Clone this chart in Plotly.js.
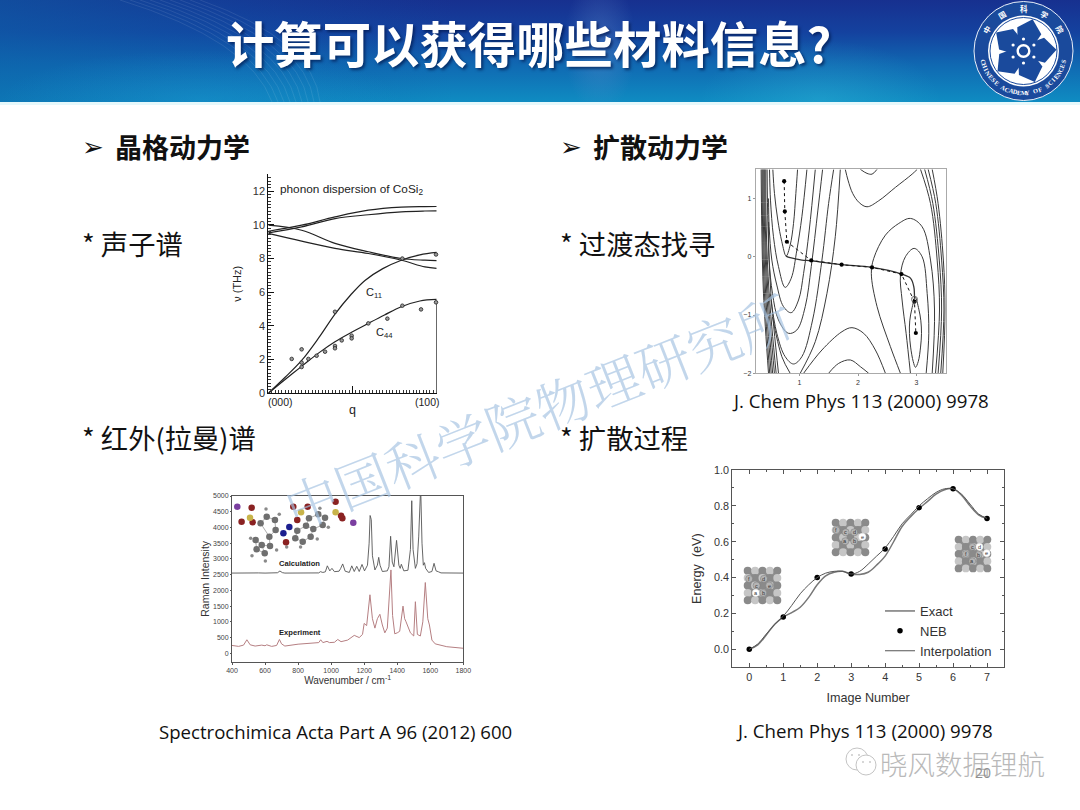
<!DOCTYPE html>
<html><head><meta charset="utf-8">
<script src="https://cdn.plot.ly/plotly-3.0.1.min.js"></script>
<style>
html,body{margin:0;padding:0;background:#fff;width:1080px;height:810px;overflow:hidden}
#banner{position:absolute;left:0;top:0;width:1080px;height:102px;
background:
 radial-gradient(ellipse 36px 70px at 600px 45px,rgba(110,150,210,.35),rgba(110,150,210,0) 100%),
 radial-gradient(ellipse 120px 60px at 820px 100px,rgba(60,200,225,.28),rgba(60,200,225,0) 100%),
 radial-gradient(ellipse 200px 50px at 200px 100px,rgba(30,170,220,.30),rgba(30,170,220,0) 100%),
 linear-gradient(90deg,rgba(12,100,170,.55) 0%,rgba(12,90,170,.28) 22%,rgba(10,60,160,0) 42%,rgba(10,60,160,0) 100%),
 linear-gradient(180deg,#17308f 0%,#14429f 32%,#1069b2 64%,#0f8cc2 100%);}
#bline{position:absolute;left:0;top:102px;width:1080px;height:3px;background:#e6f8fb}
#chart{position:absolute;left:0;top:0;width:1080px;height:810px}
</style></head><body>
<div id="banner"></div><div id="bline"></div><div id="chart"></div>
<script>
// ---------- Phonon dispersion of CoSi2 ----------
const phononQ   = [0,0.198,0.396,0.594,0.79,0.93,1];
const branchA   = [9.62,9.98,10.47,10.87,11.05,11.08,11.09];
const branchB   = [9.52,9.88,10.37,10.6,10.77,10.82,10.83];
const branchC   = [9.98,9.68,8.9,8.4,8.0,7.9,7.87];
const branchD   = [9.49,9.03,8.6,8.3,7.9,7.5,7.41];
const c11Q      = [0,0.1,0.198,0.3,0.396,0.49,0.574,0.68,0.79,0.9,1];
const c11Nu     = [0,0.95,1.95,3.3,4.7,5.85,6.7,7.4,7.9,8.22,8.36];
const c44Q      = [0,0.1,0.198,0.3,0.396,0.5,0.594,0.69,0.79,0.9,1];
const c44Nu     = [0,0.82,1.6,2.4,3.06,3.65,4.15,4.65,5.14,5.48,5.57];
const expQ      = [.139,.198,.198,.198,.238,.287,.337,.396,.396,.396,.436,.495,.495,.594,.707,.796,.796,.907,.996,.996];
const expNu     = [2.04,2.61,1.82,1.56,2.04,2.23,2.47,4.84,2.81,2.67,3.14,3.42,3.26,4.15,4.43,5.2,8.0,4.98,5.4,8.24];
// ---------- Raman spectra ----------
const calcWn = [400,520,532,545,560,600,675,690,705,720,925,935,950,965,977,992,1005,1020,1048,1057,1070,1085,1110,1125,1140,1155,1170,1187,1202,1220,1230,1236,1243,1250,1265,1280,1288,1296,1310,1340,1350,1360,1370,1380,1396,1410,1418,1425,1440,1465,1480,1488,1496,1510,1520,1530,1535,1542,1550,1558,1565,1572,1590,1610,1623,1635,1650,1665,1800];
const calcI  = [2550,2555,2575,2565,2555,2550,2560,2615,2565,2550,2555,2595,2570,2590,2780,2620,2700,2595,2610,2690,2840,2610,2570,2780,2600,2765,2600,2825,2620,2800,3500,4380,4250,3100,2650,2800,3050,2800,2600,2620,2750,3720,2900,2750,3590,2800,2700,2830,2620,2640,3300,4850,3300,2700,2850,3700,5300,5300,3500,2800,2880,2700,2570,2600,2860,2620,2590,2555,2550];
const expWn  = [400,440,470,490,510,540,580,600,610,640,670,687,700,720,800,900,925,937,950,975,990,1020,1040,1060,1100,1140,1170,1190,1200,1215,1235,1250,1265,1280,1295,1310,1325,1340,1350,1362,1372,1385,1400,1415,1435,1445,1452,1460,1480,1500,1510,1522,1540,1555,1570,1585,1595,1610,1630,1700,1800];
const expI   = [250,220,260,430,270,230,260,240,270,220,250,440,300,230,290,320,340,430,340,380,340,350,440,370,420,570,500,600,950,880,1860,1100,800,1100,1240,900,650,800,1500,2650,1200,620,650,700,1500,1100,1020,900,650,550,1640,600,550,1000,2250,1100,900,420,300,210,160];
const atomPurpleX=[432,1134], atomPurpleY=[4661,4153];
const atomRedX=[519,458,525,771,858,795,1027,1060,1068,727], atomRedY=[4629,4185,4163,4661,4661,4238,4820,4375,4290,3528];
const atomYellowX=[509,818,1027], atomYellowY=[4312,4481,4481];
const atomBlueX=[747,711], atomBlueY=[4015,3814];
const atomGrayX=[573,610,660,664,626,543,580,630,549,598,795,848,866,922,963,949,892,876,828,783];
const atomGrayY=[4132,4343,4238,3920,3708,3602,3443,3411,3306,3178,3899,4057,4290,4418,4312,4079,3952,3708,3549,3655];
const atomSmallX=[606,686,513,521,602,670,932,983,916,815,731];
const atomSmallY=[4587,4418,3655,3104,2935,3284,4608,4005,3634,3380,3380];
const bondPairs=[[0,1],[1,2],[2,3],[3,4],[4,0],[4,7],[7,6],[6,5],[5,8],[8,9],[9,6],[10,11],[11,12],[12,13],[13,14],[14,15],[15,16],[16,11],[16,17],[17,18],[18,19],[19,10]];
// ---------- NEB potential contours ----------
const contourLines = [
 {x:[.343,.354,.383,.469],y:[1.5,.514,-.63,-2]},
 {x:[.36,.368,.40,.49],y:[1.5,.514,-.63,-2]},
 {x:[.375,.383,.42,.515],y:[1.5,.514,-.63,-2]},
 {x:[.39,.40,.44,.54],y:[1.5,.514,-.63,-2]},
 {x:[.405,.415,.46,.57],y:[1.5,.514,-.63,-2]},
 {x:[.423,.43,.48,.60],y:[1.5,.514,-.63,-2]},
 {x:[.445,.46,.51,.64],y:[1.5,.514,-.63,-2]},
 {x:[.543,.571,.628,.697,.771,.84,.897,.937,.966],y:[1.497,1.086,.629,.257,.011,.2,.571,1.086,1.497]},
 {x:[.486,.503,.554,.64,.754,.857,.954,1.04,1.126],y:[1.497,.971,.343,-.171,-.526,-.371,.114,.686,1.497]},
 {x:[.47,.48,.526,.611,.726,.857,.983,1.069,1.166,1.269],y:[1.0,.514,-.057,-.486,-.857,-.96,-.743,-.286,.457,1.497]},
 {x:[.47,.48,.537,.64,.811,.954,1.097,1.2,1.314,1.394],y:[.6,-.057,-.629,-1.086,-1.314,-1.257,-.857,-.171,.8,1.497]},
 {x:[.497,.611,.754,.897,1.04,1.223,1.383,1.497,1.583],y:[-.629,-1.314,-1.714,-1.84,-1.714,-1.086,-.057,.914,1.497]},
 {x:[.537,.697,.84],y:[-1.029,-1.714,-2]},
 {x:[1.011,1.269,1.469,1.611,1.697],y:[-2,-1.457,-.629,.343,1.497]},
 {x:[1.783,1.829,1.909,2.023,2.154,2.354,2.64,2.926,3.011],y:[1.497,1.314,1.086,.926,.857,.96,1.19,1.417,1.497]},
 {x:[2.04,2.154,2.24,2.326],y:[1.5,1.43,1.417,1.5]},
 {x:[1.497,1.669,1.868,2.04,2.183],y:[-2,-1.83,-1.771,-1.886,-2]},
 {x:[1.069,1.383,1.726,1.897,2.097,2.297,2.469],y:[-2,-1.6,-1.286,-1.217,-1.314,-1.6,-2]},
 {x:[2.98,2.92,2.885,2.88,2.90,2.945,2.983,3.03,3.07,3.086,3.075,3.04,2.98],y:[-.70,-.9,-1.1,-1.314,-1.55,-1.8,-1.897,-1.8,-1.55,-1.314,-1.1,-.9,-.70]},
 {x:[2.897,2.823,2.754,2.726,2.811,2.96,3.097,3.183,3.211,3.166],y:[-2,-1.314,-.743,-.314,0,.143,0,-.629,-1.314,-2]},
 {x:[2.726,2.554,2.326,2.228,2.269,2.469,2.697,2.897,3.097,3.24,3.309,3.269],y:[-2,-1.543,-.857,-.286,-.029,.371,.571,.657,.514,-.057,-.914,-2]},
 {x:[3.069,3.24,3.354,3.394,3.326],y:[1.5,.914,-.057,-.914,-2]},
 {x:[3.14,3.28,3.39,3.43,3.37],y:[1.5,.914,-.057,-.914,-2]},
 {x:[3.2,3.33,3.43,3.47,3.415],y:[1.5,.914,-.057,-.914,-2]},
 {x:[3.269,3.37,3.46,3.49,3.45],y:[1.5,.914,-.057,-.914,-2]}
];
const mepX=[.766,.84,1.04,1.2,1.726,2.24,2.743,2.9,2.954,2.966];
const mepY=[0.011,-.017,-.057,-.069,-.137,-.183,-.297,-.371,-.514,-.714];
const nebPathX=[.737,.748,.783,1.2,1.72,2.24,2.743,2.966,2.989];
const nebPathY=[1.297,.777,.257,-.063,-.137,-.183,-.297,-.771,-1.309];
// ---------- NEB energies ----------
const imageNo     = [0,1,2,3,4,5,6,7];
const nebEnergy   = [0,.18,.40,.42,.56,.79,.895,.73];
const curveX      = [0,.25,.5,.75,1,1.25,1.5,1.75,2,2.25,2.5,2.75,3,3.25,3.5,3.75,4,4.25,4.5,4.75,5,5.25,5.5,5.75,6,6.25,6.5,6.75,7];
const exactEnergy = [0,.025,.08,.14,.18,.205,.235,.29,.36,.41,.43,.435,.42,.418,.43,.47,.52,.60,.685,.74,.785,.825,.865,.89,.895,.86,.80,.75,.73];
const interpEnergy= [0,.03,.085,.14,.185,.245,.31,.36,.40,.425,.435,.435,.42,.435,.475,.52,.565,.63,.70,.75,.80,.84,.875,.895,.895,.865,.81,.755,.73];
// ---------- Slide text ----------
const slideTitle="计算可以获得哪些材料信息?";
const watermark="中国科学院物理研究所";
const footer="晓风数据锂航";

const W=1080,H=810, px=x=>x/W, py=y=>1-y/H;
const SANS='"Liberation Sans",Arial,sans-serif', CJK='"Noto Sans CJK SC","Open Sans",sans-serif', OS='"Open Sans","Noto Sans",sans-serif';
const anns=[], shapes=[];
function T(x,y,text,size,o={}){anns.push({xref:'paper',yref:'paper',x:px(x),y:py(y),text,showarrow:false,xanchor:o.xa||'left',yanchor:'middle',textangle:o.angle||0,
  font:{family:o.family||CJK,size,color:o.color||'#111',weight:o.weight||400}});}
function circ(cx,cy,r,fill,line,lw){shapes.push({type:'circle',xref:'paper',yref:'paper',x0:px(cx-r),x1:px(cx+r),y0:py(cy+r),y1:py(cy-r),fillcolor:fill,line:{color:line||fill,width:lw===undefined?0:lw}});}

// banner fan of light lines
for(let i=0;i<9;i++){
  shapes.push({type:'path',xref:'paper',yref:'paper',line:{color:'rgba(255,255,255,.13)',width:.7},
    path:`M${px(120+i*10)},${py(0)} Q${px(250+i*8)},${py(40)} ${px(272+i*6)},${py(102)}`});
}

// slide headings and bullets
T(80,147,'➢',26,{family:'"DejaVu Sans"'}); T(112.5,146,'晶格动力学',27,{weight:700});
T(558,147,'➢',26,{family:'"DejaVu Sans"'}); T(590.5,146,'扩散动力学',27,{weight:700});
T(79.5,243,'* 声子谱',27.3); T(79.5,437,'* 红外(拉曼)谱',27.3);
T(557.5,243,'* 过渡态找寻',27.3); T(557.5,437,'* 扩散过程',27.3);
T(335,731,'Spectrochimica Acta Part A 96 (2012) 600',18.6,{family:OS,xa:'center'});
T(860,400,'J. Chem Phys 113 (2000) 9978',18.7,{family:OS,xa:'center'});
T(864.5,730,'J. Chem Phys 113 (2000) 9978',18.7,{family:OS,xa:'center'});

// phonon labels
T(278,189,'phonon dispersion of CoSi<sub>2</sub>',11.8,{family:SANS,color:'#222'});
T(364,293,'C<sub>11</sub>',11,{family:SANS,color:'#222'});
T(374,333,'C<sub>44</sub>',11,{family:SANS,color:'#222'});
T(280,402,'(000)',10.5,{family:SANS,color:'#222',xa:'center'});
T(427,402,'(100)',10.5,{family:SANS,color:'#222',xa:'center'});
// raman labels
T(277,563,'Calculation',7.6,{family:SANS,weight:700,color:'#222'});
T(277,632,'Experiment',7.6,{family:SANS,weight:700,color:'#222'});

// lattice insets of the NEB panel
function inset(l,t,size,marks){
  const c=size/5;
  shapes.push({type:'rect',xref:'paper',yref:'paper',x0:px(l+2),x1:px(l+size-2),y0:py(t+size-2),y1:py(t+2),fillcolor:'#8e8e8e',line:{width:0}});
  for(let i=0;i<5;i++)for(let j=0;j<5;j++){
    const light=(i+j)%2===1;
    circ(l+(i+.5)*c,t+(j+.5)*c,c*.54,light?'#c6c6c6':'#8a8a8a');
  }
  marks.forEach(m=>{circ(l+m[0]*c,t+m[1]*c,c*.48,m[3]?'#fff':'#b4b4b4',m[3]?'#eee':'#777',.5);
    T(l+m[0]*c,t+m[1]*c,m[2],5.5,{family:SANS,xa:'center',color:'#333'});});
}
inset(744,567,37,[[.7,1.6,'f'],[2.7,1.6,'d'],[1.7,2.5,'c'],[3.4,2.5,'e'],[1.6,3.5,'a',1],[2.6,3.5,'b']]);
inset(832,519,37,[[.6,1.5,'f'],[1.85,1.8,'c',0],[3,1.8,'d'],[4.1,2.4,'e',1],[1.8,3,'a'],[3,3,'b']]);
inset(955,536,36,[[1.5,2.5,'f'],[2.4,1.5,'c'],[3.4,1.5,'d',1],[4.4,2.4,'e',1],[3.3,2.6,'b'],[2.4,3.5,'a']]);

// logo
const LX=1023.5,LY=51,LOGO='#1a4a9c';
circ(LX,LY,49.5,LOGO,'#e8eef8',1);
circ(LX,LY,35.5,'#ffffff','#ffffff',0);
circ(LX,LY,33.5,'#ffffff',LOGO,1);
circ(LX,LY,17,LOGO);
for(let k=0;k<5;k++){
  const a=(-74+72*k)*Math.PI/180, u=[Math.cos(a),Math.sin(a)], v=[-u[1],u[0]];
  const P=(r,s)=>`${px(LX+u[0]*r+v[0]*s)},${py(LY+u[1]*r+v[1]*s)}`;
  shapes.push({type:'path',xref:'paper',yref:'paper',fillcolor:LOGO,line:{width:0},
    path:`M${P(10,-9)} L${P(21,-12.5)} L${P(33,0)} L${P(21,12.5)} L${P(10,9)} Z`});
}
for(let k=0;k<6;k++){const a=(-90+60*k)*Math.PI/180;circ(LX+Math.cos(a)*12,LY+Math.sin(a)*12,1.6,'#ffffff');}
circ(LX,LY,7,'#ffffff');circ(LX,LY,4.6,LOGO);
[...'中国科学院'].forEach((c,i)=>{const deg=-150+30*i, r=42.5, a=deg*Math.PI/180;
  T(LX+r*Math.cos(a),LY+r*Math.sin(a),c,7.5,{xa:'center',color:'#fff',angle:deg+90,weight:700});});
[...'CHINESE ACADEMY OF SCIENCES'].forEach((c,i,arr)=>{const deg=165-(150*i/(arr.length-1)), r=41.5, a=deg*Math.PI/180;
  if(c!==' ')T(LX+r*Math.cos(a),LY+r*Math.sin(a),c,6.3,{family:'"Liberation Serif",serif',xa:'center',color:'#fff',angle:deg-90,weight:700});});

// footer and watermark
circ(857,759,11,'rgba(0,0,0,0)','#c4c4c4',1); circ(866,765,10,'#ffffff','#c4c4c4',1);
circ(852,755,.9,'#c4c4c4');circ(859,755,.9,'#c4c4c4');circ(863,762,.9,'#c4c4c4');circ(870,762,.9,'#c4c4c4');
T(962,763,footer,27.5,{xa:'center',color:'#b9b9b9',weight:300});
T(983,772,'20',14,{family:OS,xa:'center',color:'#8f8f8f'});
T(537,409,watermark,54,{xa:'center',angle:-21.5,color:'rgba(165,195,225,.68)',family:'"Noto Serif CJK SC","Noto Sans CJK SC",sans-serif',weight:300});

const dx=(l,r)=>[px(l),px(r)], dy=(t,b)=>[py(b),py(t)];
const tf=(s,c)=>({family:SANS,size:s,color:c||'#333'});
const base={showgrid:false,zeroline:false};
const layout={width:W,height:H,margin:{l:0,r:0,t:0,b:0},paper_bgcolor:'rgba(0,0,0,0)',plot_bgcolor:'rgba(0,0,0,0)',
 title:{text:slideTitle,x:.4895,xanchor:'center',y:.943,yanchor:'middle',
   font:{family:CJK,size:48.4,color:'#fff',weight:700,shadow:'2px 2px 3px rgba(0,20,70,.65)'}},
 showlegend:true,
 legend:{x:px(880),y:py(596),xanchor:'left',yanchor:'top',bgcolor:'rgba(0,0,0,0)',font:{family:SANS,size:13,color:'#333'},tracegroupgap:0,itemwidth:30},
 xaxis:{...base,domain:dx(268.3,436.7),anchor:'y',range:[0,1],tickvals:[0,.5,1],showticklabels:false,ticks:'inside',ticklen:7,tickcolor:'#111',showline:true,linecolor:'#111',linewidth:1,
   minor:{dtick:.02,ticks:'inside',ticklen:3,tickcolor:'#333',showgrid:false},title:{text:'q',font:tf(12.5,'#222'),standoff:11}},
 yaxis:{...base,domain:dy(174.3,393.3),anchor:'x',range:[0,13],dtick:2,ticks:'inside',ticklen:6,tickcolor:'#111',showline:true,linecolor:'#111',linewidth:1,tickfont:tf(11),
   minor:{dtick:.2,ticks:'inside',ticklen:3,tickcolor:'#333',showgrid:false},title:{text:'ν (THz)',font:tf(11,'#222'),standoff:8}},
 xaxis2:{...base,domain:dx(232,463.3),anchor:'y2',range:[400,1800],dtick:200,ticks:'outside',ticklen:2,tickcolor:'#555',mirror:true,showline:true,linecolor:'#555',linewidth:1,tickfont:tf(7,'#444'),
   title:{text:'Wavenumber / cm<sup>-1</sup>',font:tf(10),standoff:3}},
 yaxis2:{...base,domain:dy(496,661.7),anchor:'x2',range:[-267,5000],dtick:500,ticks:'outside',ticklen:1,tickcolor:'#555',mirror:true,showline:true,linecolor:'#555',linewidth:1,tickfont:tf(7,'#444'),
   title:{text:'Raman Intensity',font:tf(10.5),standoff:1}},
 xaxis3:{...base,domain:dx(755.7,945.7),anchor:'y3',range:[.25,3.5],tickvals:[1,2,3],ticks:'outside',ticklen:2,tickcolor:'#999',mirror:true,showline:true,linecolor:'#aaa',linewidth:1,tickfont:tf(7)},
 yaxis3:{...base,domain:dy(169.3,373.3),anchor:'x3',range:[-2,1.5],tickvals:[-2,-1,0,1],ticks:'outside',ticklen:2,tickcolor:'#999',mirror:true,showline:true,linecolor:'#aaa',linewidth:1,tickfont:tf(7)},
 xaxis4:{...base,domain:dx(732.3,1004),anchor:'y4',range:[-.5,7.5],dtick:1,ticks:'inside',ticklen:4,tickcolor:'#555',mirror:'ticks',showline:true,linecolor:'#555',linewidth:1,tickfont:tf(10.8),
   minor:{dtick:.5,ticks:'inside',ticklen:2,tickcolor:'#555',showgrid:false},title:{text:'Image Number',font:tf(12.6),standoff:10}},
 yaxis4:{...base,domain:dy(470,667.3),anchor:'x4',range:[-.1,1],dtick:.2,tickformat:'.1f',ticks:'inside',ticklen:4,tickcolor:'#555',mirror:'ticks',showline:true,linecolor:'#555',linewidth:1,tickfont:tf(10.8),
   minor:{dtick:.1,ticks:'inside',ticklen:2,tickcolor:'#555',showgrid:false},title:{text:'Energy  (eV)',font:tf(12.6),standoff:9}},
 annotations:anns,shapes
};
const off={showlegend:false,hoverinfo:'skip'};
const L=(x,y,ax,o={})=>({...off,type:'scatter',mode:'lines',x,y,xaxis:'x'+ax,yaxis:'y'+ax,line:{color:o.c||'#222',width:o.w||1.2,shape:o.s||'spline',dash:o.d},...(o.extra||{})});
const bondX=[],bondY=[];
bondPairs.forEach(p=>{bondX.push(atomGrayX[p[0]],atomGrayX[p[1]],null);bondY.push(atomGrayY[p[0]],atomGrayY[p[1]],null);});
const atoms=(x,y,c,s)=>({...off,type:'scatter',mode:'markers',x,y,xaxis:'x2',yaxis:'y2',marker:{color:c,size:s,line:{width:0}}});
const traces=[
 L(phononQ,branchA,''),L(phononQ,branchB,''),L(phononQ,branchC,''),L(phononQ,branchD,''),
 L(c11Q,c11Nu,''),L(c44Q,c44Nu,''),
 L([1,1],[0,5.5],'',{s:'linear',w:1.2,c:'#111'}),
 {...off,type:'scatter',mode:'markers',x:expQ,y:expNu,marker:{size:3.6,color:'#9a9a9a',line:{color:'#222',width:.8}},cliponaxis:false},
 L(calcWn,calcI,2,{s:'linear',c:'#555',w:.9}),
 L(expWn,expI,2,{s:'linear',c:'#b57f82',w:1}),
 L(bondX,bondY,2,{s:'linear',c:'#999',w:.8}),
 atoms(atomSmallX,atomSmallY,'#8a8a8a',3.5),atoms(atomGrayX,atomGrayY,'#6f6f6f',6.5),atoms(atomRedX,atomRedY,'#8a2222',6.5),
 atoms(atomYellowX,atomYellowY,'#c8b44a',6.5),atoms(atomBlueX,atomBlueY,'#1c1f8f',6.5),atoms(atomPurpleX,atomPurpleY,'#7b3fa0',6.5),
 ...contourLines.map(c=>L(c.x,c.y,3,{c:'#3a3a3a',w:1})),
 L(mepX,mepY,3,{c:'#333',w:1.3}),
 L(nebPathX,nebPathY,3,{s:'linear',c:'#111',w:1,d:'dot'}),
 {...off,type:'scatter',mode:'markers',x:nebPathX,y:nebPathY,xaxis:'x3',yaxis:'y3',marker:{size:4.2,color:'#000'}},
 {...off,type:'scatter',mode:'markers',x:[2.966],y:[-.73],xaxis:'x3',yaxis:'y3',marker:{size:6,color:'rgba(0,0,0,0)',line:{color:'#555',width:.8}}},
 {type:'scatter',mode:'lines',name:'Exact',x:curveX,y:exactEnergy,xaxis:'x4',yaxis:'y4',line:{color:'#777',width:1.5,shape:'spline'},hoverinfo:'skip'},
 {type:'scatter',mode:'markers',name:'NEB',x:imageNo,y:nebEnergy,xaxis:'x4',yaxis:'y4',marker:{color:'#000',size:5.5},hoverinfo:'skip'},
 {type:'scatter',mode:'lines',name:'Interpolation',x:curveX,y:interpEnergy,xaxis:'x4',yaxis:'y4',line:{color:'#555',width:1,shape:'spline'},hoverinfo:'skip'}
];
Plotly.newPlot('chart',traces,layout,{staticPlot:true,displayModeBar:false});
</script></body></html>
